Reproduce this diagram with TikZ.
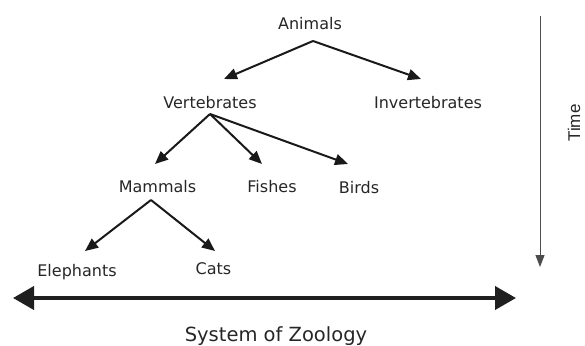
\documentclass[tikz,border=0pt]{standalone}
\usepackage{fontspec}
\setmainfont{DejaVu Sans}
\newfontfamily\timefont{Liberation Sans}
\usetikzlibrary{arrows.meta,calc}

\begin{document}
\begin{tikzpicture}[x=1pt,y=-1pt,
   tx/.style={anchor=base,inner sep=0pt,font=\fontsize{16}{19}\selectfont,text=black!85},
   br/.style={-{Triangle[length=13pt,width=11pt]},line width=2pt,draw=black!90},
   sysarr/.style={{Triangle[length=21pt,width=23pt]}-{Triangle[length=21pt,width=23pt]},line width=4pt,draw=black!88},
   timearr/.style={-{Triangle[length=12pt,width=9pt]},line width=1pt,draw=black!70}]
  \useasboundingbox (0,0) rectangle (585,345);
  % tree
  \node[tx] (ani) at (310,30) {Animals};
  \node[tx] (vert) at (210,108) {Vertebrates};
  \node[tx] (inv) at (428,108) {Invertebrates};
  \node[tx] (mam) at (157.5,192) {Mammals};
  \node[tx] (fish) at (272,192) {Fishes};
  \node[tx] (bird) at (359,193) {Birds};
  \node[tx] (ele) at (77,276) {Elephants};
  \node[tx] (cat) at (213.5,274) {Cats};
  \draw[br] ($(ani.base)+(3,11)$) -- ($(vert.base)+(14,-29)$);
  \draw[br] ($(ani.base)+(3,11)$) -- ($(inv.base)+(-7,-29)$);
  \draw[br] ($(vert.base)+(0,6)$) -- ($(mam.base)+(-2.5,-28)$);
  \draw[br] ($(vert.base)+(0,6)$) -- ($(fish.base)+(-10,-28)$);
  \draw[br] ($(vert.base)+(0,6)$) -- ($(bird.base)+(-11,-29)$);
  \draw[br] ($(mam.base)+(-6.5,8)$) -- ($(ele.base)+(8,-25)$);
  \draw[br] ($(mam.base)+(-6.5,8)$) -- ($(cat.base)+(1.5,-23)$);
  % axes
  \coordinate (zl) at (13,298);
  \coordinate (zr) at (516,298);
  \draw[sysarr] (zl) -- (zr);
  \node[tx,font=\fontsize{19.5}{23}\selectfont] (sys) at (276,341) {System of Zoology};
  \coordinate (ttop) at (540,16);
  \coordinate (tbot) at (540,267);
  \draw[timearr] (ttop) -- (tbot);
  \node[inner sep=0pt,rotate=90,text=black!85] (time) at (574,123) {\timefont\fontsize{17}{20}\selectfont Time};
\end{tikzpicture}
\end{document}
